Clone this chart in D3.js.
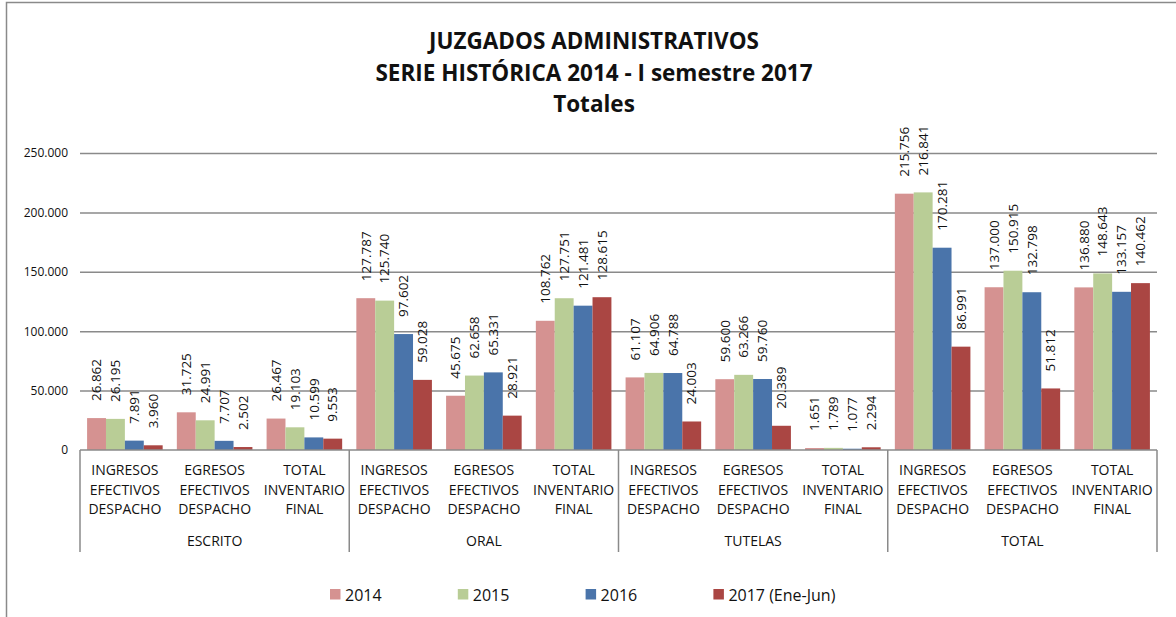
<!DOCTYPE html>
<html lang="es">
<head>
<meta charset="UTF-8">
<title>Juzgados Administrativos - Totales</title>
<script src="https://cdn.jsdelivr.net/npm/d3@7/dist/d3.min.js"></script>
<style>
    body { margin: 0; background: #ffffff; }
    svg text { font-family: "Open Sans", "DejaVu Sans", sans-serif; fill: #111; }
    .grid line { stroke: #8a8a8a; stroke-width: 1.5; }
    .cat-axis line { stroke: #8a8a8a; stroke-width: 1.5; }
</style>
</head>
<body>
<svg id="chart" width="1176" height="617"></svg>
<script>
    // --- data ---
    var groups = ["ESCRITO", "ORAL", "TUTELAS", "TOTAL"];
    var subCats = [
        ["INGRESOS", "EFECTIVOS", "DESPACHO"],
        ["EGRESOS", "EFECTIVOS", "DESPACHO"],
        ["TOTAL", "INVENTARIO", "FINAL"]
    ];
    var seriesNames = ["2014", "2015", "2016", "2017 (Ene-Jun)"];
    var seriesColors = ["#d59291", "#b9cd96", "#4a74aa", "#aa4643"];
    var s2014 = [26862, 31725, 26467, 127787, 45675, 108762, 61107, 59600, 1651, 215756, 137000, 136880];
    var s2015 = [26195, 24991, 19103, 125740, 62658, 127751, 64906, 63266, 1789, 216841, 150915, 148643];
    var s2016 = [7891, 7707, 10599, 97602, 65331, 121481, 64788, 59760, 1077, 170281, 132798, 133157];
    var s2017 = [3960, 2502, 9553, 59028, 28921, 128615, 24003, 20389, 2294, 86991, 51812, 140462];
    var yTicks = [0, 50000, 100000, 150000, 200000, 250000];
    var titleLines = ["JUZGADOS ADMINISTRATIVOS", "SERIE HISTÓRICA 2014 - I semestre 2017", "Totales"];

    var allSeries = [s2014, s2015, s2016, s2017];

    var loc = d3.formatLocale({decimal: ",", thousands: ".", grouping: [3], currency: ["$", ""]});
    var fmt = loc.format(",d");

    var svg = d3.select("#chart");
    var plot = {left: 80, right: 1157, top: 153, bottom: 450};

    // categories: one slot per (group, sub-category)
    var cats = [];
    groups.forEach(function (g, gi) {
        subCats.forEach(function (s, si) { cats.push({group: g, gi: gi, sub: s, key: gi + "-" + si}); });
    });

    var x = d3.scaleBand().domain(cats.map(function (c) { return c.key; }))
        .range([plot.left, plot.right]).padding(0);
    var xs = d3.scaleBand().domain(d3.range(allSeries.length))
        .range([0, x.bandwidth()]).paddingInner(0).paddingOuter(0.375);
    var y = d3.scaleLinear().domain([0, 250000]).range([plot.bottom, plot.top]);

    // frame
    svg.append("path")
        .attr("d", "M6.5,617 L6.5,2.5 L1176,2.5")
        .attr("fill", "none").attr("stroke", "#8a8a8a").attr("stroke-width", 1.5);

    // title
    svg.append("g").selectAll("text").data(titleLines).enter().append("text")
        .attr("x", 594).attr("y", function (d, i) { return 49 + i * 31.5; })
        .attr("text-anchor", "middle")
        .style("font-size", "22.5px").style("font-weight", "bold")
        .text(function (d) { return d; });

    // gridlines + y labels
    var yAxis = d3.axisLeft(y).tickValues(yTicks).tickSize(-(plot.right - plot.left)).tickPadding(12)
        .tickFormat(function (d) { return d === 0 ? "0" : fmt(d); });
    var ga = svg.append("g").attr("class", "grid").attr("transform", "translate(" + plot.left + ",0)").call(yAxis);
    ga.select(".domain").remove();
    ga.selectAll(".tick line").filter(function (d) { return d === 0; }).remove();
    ga.selectAll("text").style("font-size", "12px").attr("fill", "#111");

    // bars
    var bars = svg.append("g");
    allSeries.forEach(function (vals, si) {
        bars.selectAll(".b" + si).data(vals).enter().append("rect")
            .attr("x", function (d, i) { return x(cats[i].key) + xs(si); })
            .attr("y", function (d) { return y(d); })
            .attr("width", xs.bandwidth())
            .attr("height", function (d) { return y(0) - y(d); })
            .attr("fill", seriesColors[si]);
    });

    // value labels, rotated
    var labels = svg.append("g");
    allSeries.forEach(function (vals, si) {
        labels.selectAll(".l" + si).data(vals).enter().append("text")
            .attr("transform", function (d, i) {
                var cx = x(cats[i].key) + xs(si) + xs.bandwidth() / 2;
                return "translate(" + cx + "," + (y(d) - 17) + ") rotate(-90)";
            })
            .attr("dy", "0.35em")
            .style("font-size", "13.5px")
            .text(function (d) { return fmt(d); });
    });

    // category axis
    var cat = svg.append("g").attr("class", "cat-axis");
    cat.append("line").attr("x1", plot.left).attr("x2", plot.right)
        .attr("y1", plot.bottom).attr("y2", plot.bottom);
    var bounds = groups.map(function (g, gi) { return x(gi + "-0"); }).concat([plot.right]);
    cat.selectAll(".sep").data(bounds).enter().append("line")
        .attr("x1", function (d) { return d; }).attr("x2", function (d) { return d; })
        .attr("y1", plot.bottom).attr("y2", 552);

    var catLab = cat.selectAll(".cl").data(cats).enter().append("text")
        .attr("text-anchor", "middle")
        .attr("x", function (d) { return x(d.key) + x.bandwidth() / 2; })
        .style("font-size", "14px");
    catLab.selectAll("tspan").data(function (d) { return d.sub; }).enter().append("tspan")
        .attr("x", function () { var p = d3.select(this.parentNode).datum(); return x(p.key) + x.bandwidth() / 2; })
        .attr("y", function (d, i) { return 475 + i * 19.5; })
        .text(function (d) { return d; });

    cat.selectAll(".gl").data(groups).enter().append("text")
        .attr("text-anchor", "middle")
        .attr("x", function (d, gi) { return (bounds[gi] + bounds[gi + 1]) / 2; })
        .attr("y", 546)
        .style("font-size", "14px")
        .text(function (d) { return d; });

    // legend
    var leg = svg.append("g").selectAll("g").data(seriesNames).enter().append("g")
        .attr("transform", function (d, i) { return "translate(" + (330 + i * 127.8) + ",589)"; });
    leg.append("rect").attr("width", 10.5).attr("height", 10.5)
        .attr("fill", function (d, i) { return seriesColors[i]; });
    leg.append("text").attr("x", 15).attr("y", 11.7)
        .style("font-size", "16px")
        .text(function (d) { return d; });
</script>
</body>
</html>
